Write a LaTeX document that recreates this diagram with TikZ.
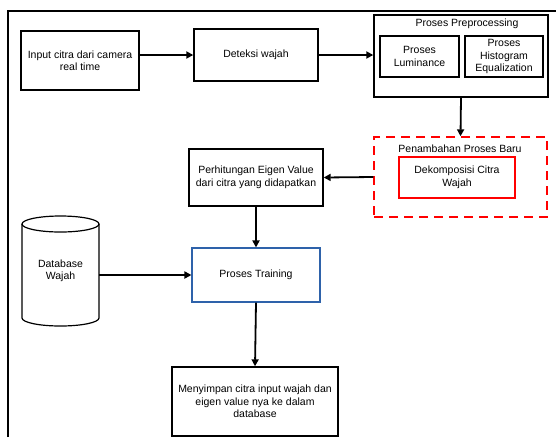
\documentclass[tikz,border=0pt]{standalone}
\usepackage{fontspec}
\setmainfont{Liberation Sans}
\usetikzlibrary{arrows.meta}
\definecolor{trainblue}{RGB}{46,98,170}

\tikzset{
    box/.style={draw, line width=1.4pt, align=center, inner sep=2pt},
    subbox/.style={box, line width=1.3pt},
    arr/.style={line width=1.8pt, -{Triangle[length=7pt,width=7pt]}},
}

\begin{document}
\begin{tikzpicture}[x=1pt, y=-1pt, font=\fontsize{10.5}{12.5}\selectfont]
    \useasboundingbox (0,0) rectangle (556,437);

    % Rahmen
    \draw[line width=1.8pt] (8,437) -- (8,11) -- (556,11);

    % obere Reihe
    \node[box, minimum width=118, minimum height=59] (inp) at (80,60.5)
        {Input citra dari camera\\real time};
    \node[box, minimum width=124, minimum height=52] (det) at (256,55) {Deteksi wajah};

    % Preprocessing
    \node[box, minimum width=174, minimum height=82] (pre) at (461,56) {};
    \node (pretitle) at (467,24) {Proses Preprocessing};
    \node[subbox, minimum width=79, minimum height=41] (lum) at (419.5,56.5)
        {Proses\\Luminance};
    \node[subbox, minimum width=78, minimum height=41] (hist) at (504,56.5)
        {Proses\\Histogram\\Equalization};

    % neuer Prozess
    \node[box, red, dashed, dash pattern=on 9pt off 6pt, minimum width=173, minimum height=80]
        (baru) at (460.5,177) {};
    \node (barutitle) at (460,149) {Penambahan Proses Baru};
    \node[subbox, red, minimum width=116, minimum height=41] (dek) at (457,177.5)
        {\textcolor{black}{Dekomposisi Citra}\\\textcolor{black}{Wajah}};

    % mittlere Spalte
    \node[box, minimum width=134, minimum height=57] (eig) at (256,177.5)
        {Perhitungan Eigen Value\\dari citra yang didapatkan};
    \node[box, draw=trainblue, line width=1.1pt, minimum width=128, minimum height=54]
        (train) at (256,275) {Proses Training};
    \node[box, minimum width=166, minimum height=69] (simpan) at (255,401.5)
        {Menyimpan citra input wajah dan\\eigen value nya ke dalam\\database};

    % Datenbank
    \node[align=center, minimum width=77, minimum height=110] (db) at (60.5,271) {Database\\Wajah};
    \draw[line width=1.2pt] (22,224) -- (22,318)
        arc[start angle=180, end angle=0, x radius=38.5, y radius=8] -- (99,224);
    \draw[line width=1.2pt] (60.5,224) ellipse[x radius=38.5, y radius=8];

    % Pfeile
    \draw[arr] (inp.east |- det.west) -- (det.west);
    \draw[arr] (det.east) -- (det.east -| pre.west);
    \draw[arr] (pre.south) -- (baru.north);
    \draw[arr] (baru.west) -- (eig.east);
    \draw[arr] (eig.south) -- (train.north);
    \draw[arr] (db.east |- train.west) -- (train.west);
    \draw[arr] (train.south) -- (simpan.north);
\end{tikzpicture}
\end{document}
